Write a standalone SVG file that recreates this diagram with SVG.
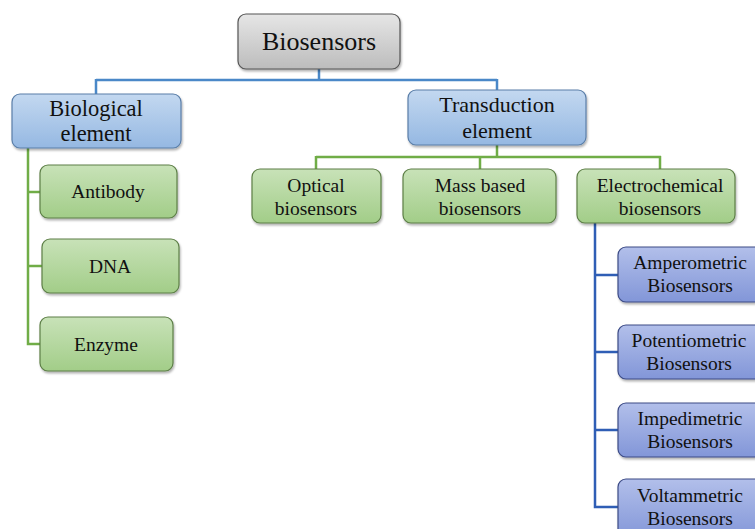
<svg xmlns="http://www.w3.org/2000/svg" width="755" height="529" viewBox="0 0 755 529">
<defs>
<linearGradient id="gGrey" x1="0" y1="0" x2="0" y2="1"><stop offset="0" stop-color="#e6e6e6"/><stop offset="1" stop-color="#bcbcbc"/></linearGradient>
<linearGradient id="gBlue" x1="0" y1="0" x2="0" y2="1"><stop offset="0" stop-color="#c3d8f0"/><stop offset="1" stop-color="#95b8e2"/></linearGradient>
<linearGradient id="gGreen" x1="0" y1="0" x2="0" y2="1"><stop offset="0" stop-color="#c8e2b8"/><stop offset="1" stop-color="#a2cd88"/></linearGradient>
<linearGradient id="gPurple" x1="0" y1="0" x2="0" y2="1"><stop offset="0" stop-color="#b2bfea"/><stop offset="1" stop-color="#8296d8"/></linearGradient>
<filter id="sh" x="-10%" y="-10%" width="120%" height="130%"><feDropShadow dx="1" dy="2" stdDeviation="1.2" flood-color="#000" flood-opacity="0.3"/></filter>
</defs>
<style>
text{font-family:"Liberation Serif","Times New Roman",serif;fill:#111;text-anchor:middle}
.box{filter:url(#sh);stroke-width:1.2}
.grey{fill:url(#gGrey);stroke:#555}
.blue{fill:url(#gBlue);stroke:#5a7ea8}
.green{fill:url(#gGreen);stroke:#5d7f47}
.purple{fill:url(#gPurple);stroke:#3c4b86}
.c1{fill:none;stroke:#4a88c8;stroke-width:2.5}
.c2{fill:none;stroke:#70ad47;stroke-width:2.5}
.c3{fill:none;stroke:#2f5eb5;stroke-width:2.5}
.t19{font-size:19.5px}
</style>
<rect width="755" height="529" fill="#fff"/>
<g id="connectors">
<path class="c1" d="M319 69V80M96 80H497M96 79V94M497 79V90"/>
<path class="c2" d="M497 145V157M316 157H661M316 156V169M480 156V169M660 156V169"/>
<path class="c2" d="M28 148V344H40M28 192H40M28 266H42"/>
<path class="c3" d="M595 223V507H618M595 275H618M595 352H618M595 430H618"/>
</g>
<g id="n-biosensors"><rect class="box grey" x="238" y="14" width="162" height="55" rx="8"/><text x="319" y="50" font-size="26">Biosensors</text></g>
<g id="n-biological"><rect class="box blue" x="12" y="94" width="169" height="54" rx="8"/><text x="96" y="116" font-size="22.5">Biological</text><text x="96" y="141" font-size="22.5">element</text></g>
<g id="n-transduction"><rect class="box blue" x="408" y="90" width="178" height="55" rx="8"/><text x="497" y="112" font-size="22">Transduction</text><text x="497" y="138" font-size="22">element</text></g>
<g id="n-antibody"><rect class="box green" x="40" y="165" width="137" height="53" rx="8"/><text class="t19" x="108" y="198">Antibody</text></g>
<g id="n-dna"><rect class="box green" x="42" y="239" width="137" height="54" rx="8"/><text class="t19" x="110" y="273">DNA</text></g>
<g id="n-enzyme"><rect class="box green" x="40" y="317" width="133" height="54" rx="8"/><text class="t19" x="106" y="351">Enzyme</text></g>
<g id="n-optical"><rect class="box green" x="252" y="169" width="129" height="54" rx="8"/><text class="t19" x="316" y="192">Optical</text><text class="t19" x="316" y="215">biosensors</text></g>
<g id="n-mass"><rect class="box green" x="403" y="169" width="153" height="54" rx="8"/><text class="t19" x="480" y="192">Mass based</text><text class="t19" x="480" y="215">biosensors</text></g>
<g id="n-electro"><rect class="box green" x="577" y="169" width="158" height="54" rx="8"/><text class="t19" x="660" y="192">Electrochemical</text><text class="t19" x="660" y="215">biosensors</text></g>
<g id="n-ampero"><rect class="box purple" x="618" y="247" width="145" height="55" rx="8"/><text class="t19" x="690" y="269">Amperometric</text><text class="t19" x="690" y="292">Biosensors</text></g>
<g id="n-potentio"><rect class="box purple" x="618" y="325" width="145" height="54" rx="8"/><text class="t19" x="689" y="347">Potentiometric</text><text class="t19" x="689" y="370">Biosensors</text></g>
<g id="n-impedi"><rect class="box purple" x="618" y="403" width="145" height="54" rx="8"/><text class="t19" x="690" y="425">Impedimetric</text><text class="t19" x="690" y="448">Biosensors</text></g>
<g id="n-voltam"><rect class="box purple" x="618" y="479" width="145" height="60" rx="8"/><text class="t19" x="690" y="502">Voltammetric</text><text class="t19" x="690" y="525">Biosensors</text></g>
</svg>
